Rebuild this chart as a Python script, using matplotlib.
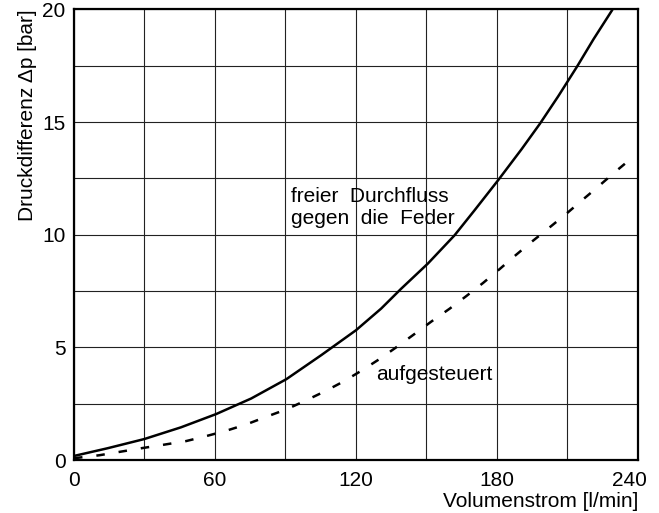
import matplotlib
matplotlib.use("Agg")
import matplotlib.pyplot as plt
import matplotlib.transforms as mtransforms

plt.rcParams['font.family'] = ['Liberation Sans', 'DejaVu Sans']

# Kennlinien
q_frei = [0, 14.2, 29.9, 45.5, 60.5, 75.4, 90.4, 105.3, 120.0, 130.7, 139.2, 150.6,
          162.0, 170.5, 180.5, 190.5, 198.3, 206.1, 214.0, 221.1, 228.9]
dp_frei = [0.18, 0.52, 0.93, 1.45, 2.04, 2.73, 3.59, 4.66, 5.76, 6.72, 7.6, 8.72,
           9.98, 11.09, 12.42, 13.8, 14.93, 16.15, 17.45, 18.68, 19.95]

q_auf = [0, 10.7, 19.9, 28.5, 37.7, 47.7, 55.5, 64.8, 73.3, 81.1, 90.4, 98.2, 106.8,
         114.6, 122.4, 130.0, 137.1, 145.0, 152.0, 159.9, 167.0, 174.1, 181.2, 187.6,
         194.7, 202.1, 209.4, 216.1, 222.9, 230.3, 237.9]
dp_auf = [0.08, 0.21, 0.37, 0.52, 0.67, 0.84, 1.04, 1.30, 1.58, 1.89, 2.25, 2.62, 3.05,
          3.48, 3.97, 4.48, 5.0, 5.6, 6.14, 6.72, 7.28, 7.86, 8.48, 9.06,
          9.68, 10.3, 10.92, 11.52, 12.12, 12.79, 13.45]

xticks = [0, 60, 120, 180, 240]
yticks = [0, 5, 10, 15, 20]

fs = 15

fig = plt.figure(figsize=(6.59, 5.13), dpi=100)
ax = fig.add_axes([0.1123, 0.1033, 0.8557, 0.8782])

ax.plot(q_frei, dp_frei, color='black', linewidth=1.8, solid_joinstyle='round')
ax.plot(q_auf, dp_auf, color='black', linewidth=1.8, linestyle=(0, (3.4, 5.6)))

ax.set_xlim(0, 240)
ax.set_ylim(0, 20)
ax.set_xticks(range(0, 241, 30))
ax.set_yticks([i * 2.5 for i in range(9)])
ax.set_xticklabels([str(v) if v in xticks else '' for v in range(0, 241, 30)])
ax.set_yticklabels([('%g' % (i * 2.5)) if (i * 2.5) in yticks else '' for i in range(9)])
ax.grid(True, color='#222222', linewidth=0.8)
ax.tick_params(length=0, labelsize=fs)
ax.tick_params(axis='y', pad=6)
ax.tick_params(axis='x', pad=8)
for s in ax.spines.values():
    s.set_linewidth(1.6)

# letzte Beschriftung etwas nach links
last = ax.get_xticklabels()[-1]
last.set_transform(last.get_transform() + mtransforms.ScaledTranslation(-0.08, 0, fig.dpi_scale_trans))

ax.set_xlabel('Volumenstrom [l/min]', fontsize=fs, loc='right', labelpad=1)
ax.set_ylabel('Druckdifferenz Δp [bar]', fontsize=fs, loc='top', labelpad=4)

ax.text(92.5, 12.1, 'freier  Durchfluss\ngegen  die  Feder', fontsize=fs,
        va='top', ha='left', linespacing=1.2)
ax.text(128.5, 3.8, 'aufgesteuert', fontsize=fs, va='center', ha='left')

fig.savefig('out.png', dpi=100)
